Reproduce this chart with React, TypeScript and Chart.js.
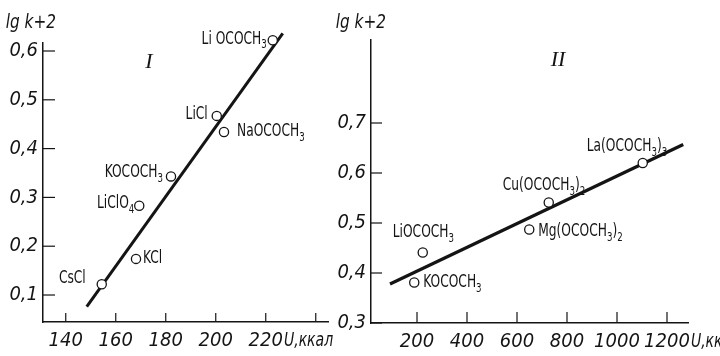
import { useEffect, useRef } from 'react';
import { Chart, registerables } from 'chart.js';
Chart.register(...registerables);

// ---------- Panel I ----------
const P1_U = [154.4, 168.1, 169.4, 182.1, 200.4, 203.3, 222.8];
const P1_LGK = [0.122, 0.174, 0.283, 0.343, 0.467, 0.434, 0.622];
const P1_NAMES = ['CsCl', 'KCl', 'LiClO_4', 'KOCOCH_3', 'LiCl', 'NaOCOCH_3', 'Li OCOCH_3'];
const P1_FIT_U = [148.4, 226.8];
const P1_FIT_LGK = [0.076, 0.636];
const P1_X_TICKS = [140, 160, 180, 200, 220, 240];
const P1_X_LABELS = ['140', '160', '180', '200', '220', ''];
const P1_Y_TICKS = [0.1, 0.2, 0.3, 0.4, 0.5, 0.6];
const P1_Y_LABELS = ['0,1', '0,2', '0,3', '0,4', '0,5', '0,6'];

// ---------- Panel II ----------
const P2_U = [189, 223, 649, 727, 1103];
const P2_LGK = [0.381, 0.441, 0.487, 0.541, 0.62];
const P2_NAMES = ['KOCOCH_3', 'LiOCOCH_3', 'Mg(OCOCH_3)_2', 'Cu(OCOCH_3)_2', 'La(OCOCH_3)_3'];
const P2_FIT_U = [92, 1265];
const P2_FIT_LGK = [0.378, 0.657];
const P2_X_TICKS = [200, 400, 600, 800, 1000, 1200];
const P2_X_LABELS = ['200', '400', '600', '800', '1000', '1200'];
const P2_Y_TICKS = [0.3, 0.4, 0.5, 0.6, 0.7];
const P2_Y_LABELS = ['0,3', '0,4', '0,5', '0,6', '0,7'];

const Y_TITLE = 'lg k+2';
const X_TITLE = 'U,ккал';

// ---------- layout / style ----------
const INK = '#141414';
const H = 356;
const NARROW = '"DejaVu Sans Condensed", "Liberation Sans Narrow", sans-serif';
const TICK_FONT = { family: NARROW, size: 20, style: 'italic' as const };
const LABEL_FONT = `17px ${NARROW}`;
const SUB_FONT = `12px ${NARROW}`;
const SQUEEZE = 0.8;

const P1_LABEL_LAYOUT: [number, number, string][] = [
  [-16, -6, 'right'], [7, 0, 'left'], [-5, -2, 'right'], [-8, -4, 'right'],
  [-9, -1, 'right'], [13, 0, 'left'], [-6, -1, 'right'],
];
const P2_LABEL_LAYOUT: [number, number, string][] = [
  [9, 0, 'left'], [-30, -20, 'left'], [9, 2, 'left'], [-46, -17, 'left'], [-56, -16, 'left'],
];

function drawRich(ctx: CanvasRenderingContext2D, s: string, x: number, y: number, align: string) {
  const parts: { t: string; sub: boolean; w?: number }[] = [];
  for (let i = 0; i < s.length; i++) {
    if (s[i] === '_') { parts.push({ t: s[i + 1], sub: true }); i++; }
    else if (parts.length && !parts[parts.length - 1].sub) parts[parts.length - 1].t += s[i];
    else parts.push({ t: s[i], sub: false });
  }
  let w = 0;
  parts.forEach((p) => { ctx.font = p.sub ? SUB_FONT : LABEL_FONT; p.w = ctx.measureText(p.t).width; w += p.w; });
  const sw = w * SQUEEZE;
  const x0 = align === 'right' ? x - sw : align === 'center' ? x - sw / 2 : x;
  ctx.save();
  ctx.translate(x0, y);
  ctx.scale(SQUEEZE, 1);
  ctx.textBaseline = 'middle';
  ctx.textAlign = 'left';
  let cx = 0;
  parts.forEach((p) => { ctx.font = p.sub ? SUB_FONT : LABEL_FONT; ctx.fillText(p.t, cx, p.sub ? 6 : 0); cx += p.w!; });
  ctx.restore();
}

function drawSqueezed(ctx: CanvasRenderingContext2D, s: string, x: number, y: number, align: string, font: string, k: number) {
  ctx.font = font;
  const w = ctx.measureText(s).width * k;
  const x0 = align === 'right' ? x - w : align === 'center' ? x - w / 2 : x;
  ctx.save();
  ctx.translate(x0, y);
  ctx.scale(k, 1);
  ctx.textAlign = 'left';
  ctx.textBaseline = 'middle';
  ctx.fillText(s, 0, 0);
  ctx.restore();
}

type PanelCfg = {
  W: number; area: { left: number; right: number; top: number; bottom: number };
  xMin: number; xMax: number; yMin: number; yMax: number;
  u: number[]; v: number[]; names: string[]; layout: [number, number, string][];
  fitU: number[]; fitV: number[]; lineW: number;
  xTicks: number[]; xLabels: string[]; yTicks: number[]; yLabels: string[];
  xTickLen: number; yTickLen: number; numeral: string; numeralPos: [number, number];
  titleX: number; xTitleAt: number;
};

function makePlugin(p: PanelCfg) {
  return {
    id: 'panelDecor',
    afterDraw(chart: any) {
      const ctx: CanvasRenderingContext2D = chart.ctx;
      const xs = chart.scales.x, ys = chart.scales.y;
      const { left, bottom } = chart.chartArea;
      ctx.save();
      ctx.strokeStyle = INK;
      ctx.fillStyle = INK;
      ctx.lineWidth = 1.2;
      // inward tick marks
      p.xTicks.forEach((t) => {
        const px = xs.getPixelForValue(t);
        ctx.beginPath(); ctx.moveTo(px, bottom); ctx.lineTo(px, bottom - p.xTickLen); ctx.stroke();
      });
      p.yTicks.forEach((t) => {
        const py = ys.getPixelForValue(t);
        ctx.beginPath(); ctx.moveTo(left, py); ctx.lineTo(left + p.yTickLen, py); ctx.stroke();
      });
      // point labels
      p.names.forEach((n, i) => {
        const px = xs.getPixelForValue(p.u[i]);
        const py = ys.getPixelForValue(p.v[i]);
        const [dx, dy, al] = p.layout[i];
        drawRich(ctx, n, px + dx, py + dy, al);
      });
      // y title
      drawSqueezed(ctx, Y_TITLE, p.titleX, 23, 'right', `italic 20px ${NARROW}`, 0.85);
      // x unit title
      ctx.font = `italic 20px ${NARROW}`;
      const lx = xs.getPixelForValue(p.xTitleAt) + ctx.measureText(String(p.xTitleAt)).width / 2 + 1;
      drawSqueezed(ctx, X_TITLE, lx, bottom + 19, 'left', `italic 19px ${NARROW}`, 0.82);
      // roman numeral
      ctx.font = 'italic 22px "Liberation Serif", serif';
      ctx.textAlign = 'center';
      ctx.textBaseline = 'middle';
      ctx.fillText(p.numeral, p.numeralPos[0], p.numeralPos[1]);
      ctx.restore();
    },
  };
}

function makeConfig(p: PanelCfg): any {
  return {
    type: 'scatter',
    data: {
      datasets: [
        {
          type: 'scatter', order: 0, clip: false,
          data: p.u.map((u, i) => ({ x: u, y: p.v[i] })),
          pointRadius: 4.6, pointBackgroundColor: '#fff', pointBorderColor: INK, pointBorderWidth: 1.3,
        },
        {
          type: 'line', order: 1, clip: false,
          data: p.fitU.map((u, i) => ({ x: u, y: p.fitV[i] })),
          borderColor: INK, borderWidth: p.lineW, pointRadius: 0, fill: false, tension: 0,
        },
      ],
    },
    options: {
      responsive: false, animation: false, events: [],
      layout: { padding: { left: 0, top: p.area.top, right: p.W - p.area.right, bottom: 0 } },
      plugins: { legend: { display: false }, tooltip: { enabled: false } },
      scales: {
        x: {
          type: 'linear', min: p.xMin, max: p.xMax,
          afterBuildTicks: (s: any) => { s.ticks = p.xTicks.map((v) => ({ value: v })); },
          afterFit: (s: any) => { s.height = H - p.area.bottom; },
          grid: { display: true, drawOnChartArea: false, drawTicks: false },
          border: { display: true, color: INK, width: 1.5 },
          ticks: { color: INK, font: TICK_FONT, padding: 7, maxRotation: 0, autoSkip: false, callback: (_v: any, i: number) => p.xLabels[i] },
        },
        y: {
          type: 'linear', min: p.yMin, max: p.yMax,
          afterBuildTicks: (s: any) => { s.ticks = p.yTicks.map((v) => ({ value: v })); },
          afterFit: (s: any) => { s.width = p.area.left; },
          grid: { display: true, drawOnChartArea: false, drawTicks: false },
          border: { display: true, color: INK, width: 1.5 },
          ticks: { color: INK, font: TICK_FONT, padding: 5, autoSkip: false, callback: (_v: any, i: number) => p.yLabels[i] },
        },
      },
    },
    plugins: [makePlugin(p)],
  };
}

const PANEL1: PanelCfg = {
  W: 340, area: { left: 43, right: 328, top: 43, bottom: 322 },
  xMin: 130.9, xMax: 244.9, yMin: 0.0447, yMax: 0.6164,
  u: P1_U, v: P1_LGK, names: P1_NAMES, layout: P1_LABEL_LAYOUT,
  fitU: P1_FIT_U, fitV: P1_FIT_LGK, lineW: 3,
  xTicks: P1_X_TICKS, xLabels: P1_X_LABELS, yTicks: P1_Y_TICKS, yLabels: P1_Y_LABELS,
  xTickLen: 9, yTickLen: 12, numeral: 'I', numeralPos: [149, 62], titleX: 56, xTitleAt: 220,
};

const PANEL2: PanelCfg = {
  W: 390, area: { left: 41, right: 358, top: 40, bottom: 323 },
  xMin: 16, xMax: 1284, yMin: 0.3, yMax: 0.866,
  u: P2_U, v: P2_LGK, names: P2_NAMES, layout: P2_LABEL_LAYOUT,
  fitU: P2_FIT_U, fitV: P2_FIT_LGK, lineW: 3.2,
  xTicks: P2_X_TICKS, xLabels: P2_X_LABELS, yTicks: P2_Y_TICKS, yLabels: P2_Y_LABELS,
  xTickLen: 11, yTickLen: 11, numeral: 'II', numeralPos: [228, 60], titleX: 56, xTitleAt: 1200,
};

function Panel({ cfg, left }: { cfg: PanelCfg; left: number }) {
  const ref = useRef<HTMLCanvasElement>(null);
  useEffect(() => {
    const chart = new Chart(ref.current as HTMLCanvasElement, makeConfig(cfg));
    return () => chart.destroy();
  }, [cfg]);
  return (
    <canvas
      ref={ref}
      width={cfg.W}
      height={H}
      style={{ position: 'absolute', left, top: 0, width: cfg.W, height: H }}
    />
  );
}

export default function App() {
  return (
    <div style={{ position: 'fixed', left: 0, top: 0, width: 720, height: H, background: '#fff', overflow: 'hidden' }}>
      <Panel cfg={PANEL1} left={0} />
      <Panel cfg={PANEL2} left={330} />
    </div>
  );
}
